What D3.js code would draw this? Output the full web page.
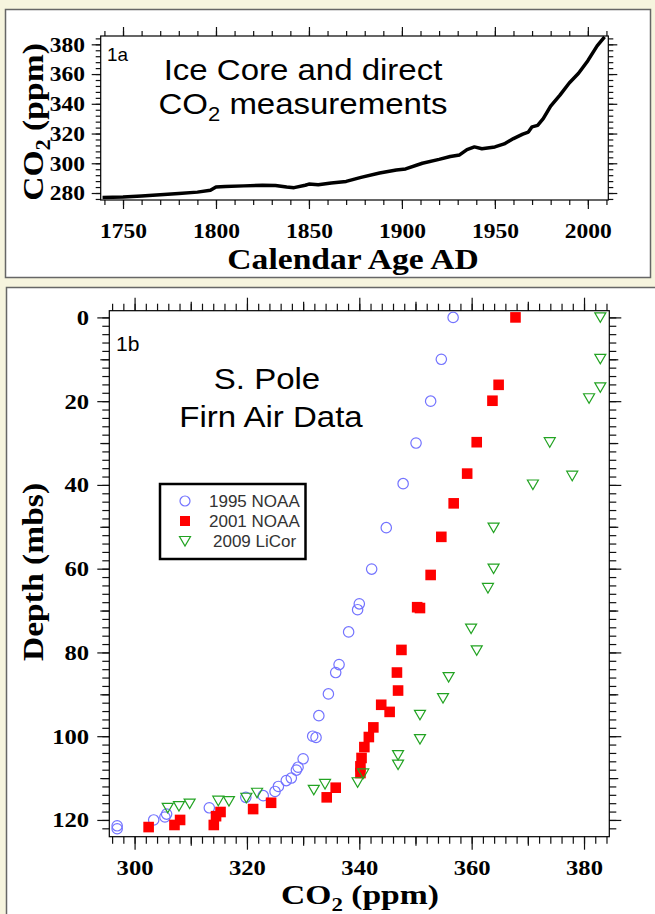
<!DOCTYPE html>
<html>
<head>
<meta charset="utf-8">
<script src="https://cdn.jsdelivr.net/npm/d3@7"></script>
<style>
  body { margin: 0; background: #f6f4de; }
  svg { display: block; }
  .serif { font-family: "Liberation Serif", "Times New Roman", serif; font-weight: bold; fill: #000; }
  .sans { font-family: "Liberation Sans", Arial, sans-serif; fill: #000; }
</style>
</head>
<body>
<svg></svg>
<script>

// ---- panel 1a: ice core + direct CO2 ----
const iceYears = [1739, 1750, 1760, 1770, 1780, 1790, 1797, 1800, 1805, 1815, 1825, 1832, 1838, 1842, 1848,
    1850, 1855, 1862, 1870, 1878, 1888, 1897, 1902, 1911, 1920, 1926, 1931, 1935, 1939, 1943, 1950,
    1955, 1960, 1965, 1968, 1970, 1973, 1976, 1980, 1985, 1990, 1995, 2000, 2005, 2009]
const iceCO2 = [277, 277.3, 278, 278.8, 279.6, 280.6, 281.8, 284, 284.4, 284.8, 285.2, 285, 284, 283.6, 285.2,
    286, 285.6, 286.8, 287.8, 290.5, 293.5, 295.5, 296.2, 300, 302.6, 304.6, 305.6, 309.2, 311, 309.8, 311,
    313, 316.6, 319.6, 321, 324.5, 325.5, 330, 338.5, 345.8, 354, 360.5, 369, 379, 385]

const yearTicks = [1750, 1800, 1850, 1900, 1950, 2000]
const iceCO2Ticks = [280, 300, 320, 340, 360, 380]

// ---- panel 1b: S. Pole firn air ----
const noaa95CO2 = [356.7, 354.6, 352.7, 350.1, 347.8, 344.8, 342.2, 340, 339.7, 338.1, 336.4, 335.8, 334.5,
    332.8, 331.7, 332.3, 330, 329.1, 328.8, 327.9, 327, 325.6, 325, 322.9, 319.8, 313.3, 305.7, 305.4,
    303.4, 296.9, 296.9]
const noaa95Depth = [0, 10, 20, 30, 39.7, 50.2, 60.1, 68.4, 69.8, 75.1, 82.9, 84.8, 89.9,
    95.1, 100, 100.3, 105.4, 107.4, 108.1, 110, 110.6, 112, 113.2, 114.2, 114.6, 117.1, 118.6, 119.3,
    120, 121.4, 122.1]

const noaa01CO2 = [367.8, 364.8, 363.7, 360.9, 359.2, 356.8, 354.6, 352.7, 350.3, 350.8, 347.5, 346.7, 346.9,
    343.9, 345.4, 342.5, 341.7, 340.9, 340.4, 340.2, 340.2, 335.8, 334.2, 324.3, 321.1, 315.3, 314.5,
    314.1, 308.1, 307.1, 302.5]
const noaa01Depth = [0, 16.1, 19.9, 29.8, 37.3, 44.4, 52.4, 61.5, 69.2, 69.4, 79.4, 84.8, 89.1,
    92.5, 94.2, 97.9, 100.2, 102.6, 105.2, 107.2, 108.8, 112.3, 114.6, 115.9, 117.4, 118.1, 119.1,
    121.2, 120, 121.2, 121.7]

const licor09CO2 = [382.9, 382.9, 382.9, 380.9, 373.9, 377.9, 370.9, 363.9, 363.9, 362.9, 359.9, 360.9, 355.9,
    354.9, 350.8, 350.8, 346.9, 346.9, 340.7, 339.7, 333.9, 331.9, 321.8, 319.9, 316.8, 314.9, 309.8,
    307.9, 305.9]
const licor09Depth = [0, 9.9, 16.7, 19.3, 29.8, 37.8, 39.9, 50.2, 60, 64.6, 74.3, 79.5, 85.9,
    90.9, 94.9, 100.7, 104.5, 106.8, 108.9, 111, 111.4, 112.8, 113.5, 114.7, 115.5, 115.4, 116.1,
    116.7, 117.1]

const seriesNames = ["1995 NOAA", "2001 NOAA", "2009 LiCor"]
const depthTicks = [0, 20, 40, 60, 80, 100, 120]
const firnCO2Ticks = [300, 320, 340, 360, 380]


const svg = d3.select("svg")
    .attr("width", 655)
    .attr("height", 914)

svg.append("rect")
    .attr("width", 655)
    .attr("height", 914)
    .attr("fill", "#f6f4de")

// white panel boxes
svg.append("rect")
    .attr("x", 5.5).attr("y", 9.5)
    .attr("width", 645).attr("height", 268)
    .attr("fill", "#fff").attr("stroke", "#666").attr("stroke-width", 1.5)

svg.append("rect")
    .attr("x", 6.5).attr("y", 287.5)
    .attr("width", 660).attr("height", 650)
    .attr("fill", "#fff").attr("stroke", "#666").attr("stroke-width", 1.5)


// text helper: the original art is a bit stretched sideways
const label = function (parent, x, y, cls, size, sx, rot) {
    return parent.append("text")
        .attr("class", cls)
        .attr("font-size", size)
        .attr("transform", `translate(${x},${y})` + (rot ? ` rotate(${rot})` : "") + ` scale(${sx},1)`)
}

const co2Text = function (t, subSize) {
    t.append("tspan").text("CO")
    t.append("tspan").attr("font-size", subSize).attr("dy", subSize * 0.35).text("2")
    t.append("tspan").attr("dy", -subSize * 0.35).text(" (ppm)")
}

// ticks on all four sides, pointing out
const drawTicks = function (g, x, y, xSets, ySets) {
    const [x0, x1] = x.range()
    const [y0, y1] = y.range()

    xSets.forEach(([vals, len]) => {
        g.append("g").attr("transform", `translate(0,${y0})`)
            .call(d3.axisBottom(x).tickValues(vals).tickSize(len).tickSizeOuter(0).tickFormat(""))
        g.append("g").attr("transform", `translate(0,${y1})`)
            .call(d3.axisTop(x).tickValues(vals).tickSize(len).tickSizeOuter(0).tickFormat(""))
    })
    ySets.forEach(([vals, len]) => {
        g.append("g").attr("transform", `translate(${x0},0)`)
            .call(d3.axisLeft(y).tickValues(vals).tickSize(len).tickSizeOuter(0).tickFormat(""))
        g.append("g").attr("transform", `translate(${x1},0)`)
            .call(d3.axisRight(y).tickValues(vals).tickSize(len).tickSizeOuter(0).tickFormat(""))
    })
    g.selectAll(".domain").remove()
    g.selectAll(".tick line").attr("stroke", "#111").attr("stroke-width", 1.2)

    g.append("rect")
        .attr("x", x0).attr("y", y1)
        .attr("width", x1 - x0).attr("height", y0 - y1)
        .attr("fill", "none").attr("stroke", "#000").attr("stroke-width", 1.2)
}

const tickLabels = function (g, x, y, xVals, yVals, xPad, yPad, size) {
    const [x0] = x.range()
    const [y0] = y.range()
    const ax = g.append("g").attr("transform", `translate(0,${y0})`)
        .call(d3.axisBottom(x).tickValues(xVals).tickSize(0).tickPadding(xPad).tickFormat(d3.format("d")))
    const ay = g.append("g").attr("transform", `translate(${x0},0)`)
        .call(d3.axisLeft(y).tickValues(yVals).tickSize(0).tickPadding(yPad).tickFormat(d3.format("d")))
    ax.select(".domain").remove()
    ay.select(".domain").remove()
    g.selectAll(".tick text")
        .attr("class", "serif")
        .attr("font-size", size)
        .attr("fill", "#000")
        .attr("transform", "scale(1.12,1)")
        .style("font-family", '"Liberation Serif", "Times New Roman", serif')
        .style("font-weight", "bold")
}


// ================= panel 1a =================
const xTop = d3.scaleLinear().domain([1738, 2011]).range([100.7, 608.3])
const yTop = d3.scaleLinear().domain([275.3, 385.6]).range([200, 36])

const gTop = svg.append("g")

drawTicks(gTop, xTop, yTop,
    [[d3.range(1740, 2011, 10), 5], [yearTicks, 9]],
    [[d3.range(276, 386, 4), 5], [iceCO2Ticks, 9]])

tickLabels(gTop, xTop, yTop, yearTicks, iceCO2Ticks, 23, 14, 21)

const iceLine = d3.line()
    .x((d, i) => xTop(iceYears[i]))
    .y(d => yTop(d))

gTop.append("path")
    .datum(iceCO2)
    .attr("d", iceLine)
    .attr("fill", "none")
    .attr("stroke", "#000")
    .attr("stroke-width", 3.5)
    .attr("stroke-linejoin", "round")

label(gTop, 107, 61, "sans", 18, 1.05).text("1a")
label(gTop, 303, 80, "sans", 30, 1.1).attr("text-anchor", "middle").text("Ice Core and direct")
const t1 = label(gTop, 303, 114, "sans", 30, 1.1).attr("text-anchor", "middle")
t1.append("tspan").text("CO")
t1.append("tspan").attr("font-size", 20).attr("dy", 7).text("2")
t1.append("tspan").attr("dy", -7).text(" measurements")

label(gTop, 353, 269, "serif", 30, 1.12).attr("text-anchor", "middle").text("Calendar Age AD")
co2Text(label(gTop, 43, 122, "serif", 30, 1.12, -90).attr("text-anchor", "middle"), 20)


// ================= panel 1b =================
const xBot = d3.scaleLinear().domain([295.5, 384.5]).range([109.3, 609.3])
const yBot = d3.scaleLinear().domain([124, -1.6]).range([836.7, 310.7])

const gBot = svg.append("g")

drawTicks(gBot, xBot, yBot,
    [[d3.range(296, 385, 2), 7], [[310, 330, 350, 370], 9], [firnCO2Ticks, 13]],
    [[d3.range(0, 124, 2), 7], [[10, 30, 50, 70, 90, 110], 9], [depthTicks, 12]])

tickLabels(gBot, xBot, yBot, firnCO2Ticks, depthTicks, 23, 18, 22)

// markers
const tri = "M-5.5,-4.5L5.5,-4.5L0,5Z"

gBot.append("g").selectAll("circle")
    .data(noaa95CO2)
    .join("circle")
    .attr("cx", d => xBot(d))
    .attr("cy", (d, i) => yBot(noaa95Depth[i]))
    .attr("r", 5.2)
    .attr("fill", "none")
    .attr("stroke", "#7373ff")
    .attr("stroke-width", 1.2)

gBot.append("g").selectAll("rect")
    .data(noaa01CO2)
    .join("rect")
    .attr("x", d => xBot(d) - 5.3)
    .attr("y", (d, i) => yBot(noaa01Depth[i]) - 5.3)
    .attr("width", 10.6)
    .attr("height", 10.6)
    .attr("fill", "#ff0000")

gBot.append("g").selectAll("path")
    .data(licor09CO2)
    .join("path")
    .attr("d", tri)
    .attr("transform", (d, i) => `translate(${xBot(d)},${yBot(licor09Depth[i])})`)
    .attr("fill", "none")
    .attr("stroke", "#22a322")
    .attr("stroke-width", 1.2)

label(gBot, 116, 351, "sans", 20, 1.05).text("1b")
label(gBot, 267, 389, "sans", 30, 1.1).attr("text-anchor", "middle").text("S. Pole")
label(gBot, 271, 427, "sans", 30, 1.1).attr("text-anchor", "middle").text("Firn Air Data")

co2Text(label(gBot, 360, 904, "serif", 28, 1.2).attr("text-anchor", "middle"), 19)
label(gBot, 43, 572, "serif", 30, 1.12, -90).attr("text-anchor", "middle").text("Depth (mbs)")

// legend
const legend = gBot.append("g")
legend.append("rect")
    .attr("x", 160).attr("y", 484)
    .attr("width", 145.5).attr("height", 75)
    .attr("fill", "#fff").attr("stroke", "#000").attr("stroke-width", 2.5)

const legendRows = legend.selectAll("g.row")
    .data(seriesNames)
    .join("g")
    .attr("class", "row")
    .attr("transform", (d, i) => `translate(185,${501 + i * 20})`)

legendRows.filter((d, i) => i === 0).append("circle")
    .attr("r", 5).attr("fill", "none").attr("stroke", "#7373ff").attr("stroke-width", 1.2)
legendRows.filter((d, i) => i === 1).append("rect")
    .attr("x", -5).attr("y", -5).attr("width", 10).attr("height", 10).attr("fill", "#ff0000")
legendRows.filter((d, i) => i === 2).append("path")
    .attr("d", tri).attr("fill", "none").attr("stroke", "#22a322").attr("stroke-width", 1.2)

legendRows.each(function (d, i) {
    label(d3.select(this), i === 2 ? 28 : 24, 6, "sans", 17, 1.0)
        .attr("fill", "#333").style("fill", "#333").text(d)
})

</script>
</body>
</html>
